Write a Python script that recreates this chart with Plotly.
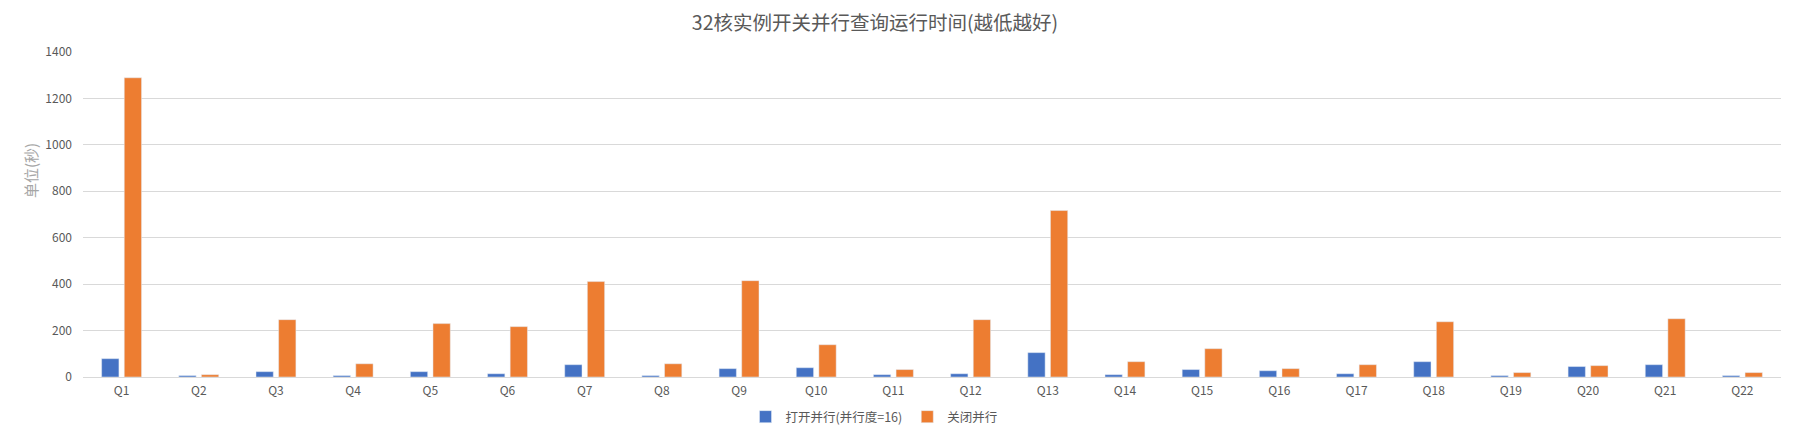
import plotly.graph_objects as go

# query names and run times in seconds
queries = [f"Q{i}" for i in range(1, 23)]
parallel_on = [79, 6, 23, 6, 23, 14, 53, 6, 36, 40, 10,
               14, 105, 10, 32, 27, 14, 66, 6, 45, 53, 6]
parallel_off = [1289, 10, 247, 57, 230, 217, 411, 57, 415, 139, 32,
                247, 717, 66, 122, 36, 53, 238, 19, 49, 251, 19]

y_ticks = [0, 200, 400, 600, 800, 1000, 1200, 1400]

font_cn = "Microsoft YaHei, Noto Sans CJK SC, sans-serif"

# the page body has an 8px margin, so the figure is drawn 8px smaller
W, H = 1786, 426
L, R, T, B = 75, 13, 44, 57
plot_h = H - T - B

fig = go.Figure()
fig.add_trace(go.Bar(name="打开并行(并行度=16)", x=queries, y=parallel_on,
                     marker_color="#4472C4"))
fig.add_trace(go.Bar(name="关闭并行", x=queries, y=parallel_off,
                     marker_color="#ED7D31"))

fig.update_layout(
    width=W, height=H,
    margin=dict(l=L, r=R, t=T, b=B, autoexpand=False),
    paper_bgcolor="white", plot_bgcolor="white",
    barmode="group", bargap=0.414, bargroupgap=0.235,
    font=dict(family=font_cn, size=12, color="#595959"),
    title=dict(text="32核实例开关并行查询运行时间(越低越好)",
               x=867 / W, xref="container", xanchor="center",
               y=1 - 15 / H, yref="container", yanchor="middle",
               font=dict(size=19.5, color="#595959")),
    legend=dict(orientation="h", x=866 / W, xref="container", xanchor="center",
                y=1 - 409 / H, yref="container", yanchor="middle",
                font=dict(size=12.5, color="#595959"),
                itemwidth=30, tracegroupgap=0,
                traceorder="normal"),
    showlegend=True,
)

fig.update_xaxes(showline=True, linecolor="#D9D9D9", linewidth=1,
                 showgrid=False, ticks="", tickfont=dict(size=12),
                 ticklabelstandoff=3)
fig.update_yaxes(range=[0, 1400], tickvals=y_ticks, showgrid=True,
                 gridcolor="#D9D9D9", gridwidth=1, zeroline=False,
                 showline=False, ticks="", tickfont=dict(size=12),
                 ticklabelstandoff=10)

# y axis title, placed in pixels
fig.add_annotation(text="单位(秒)", textangle=-90,
                   x=(22 - L) / (W - L - R), xref="paper", xanchor="center",
                   y=(H - B - 163) / plot_h, yref="paper", yanchor="middle",
                   showarrow=False,
                   font=dict(size=15, color="#A6A6A6"))

fig.write_html("out.html")
